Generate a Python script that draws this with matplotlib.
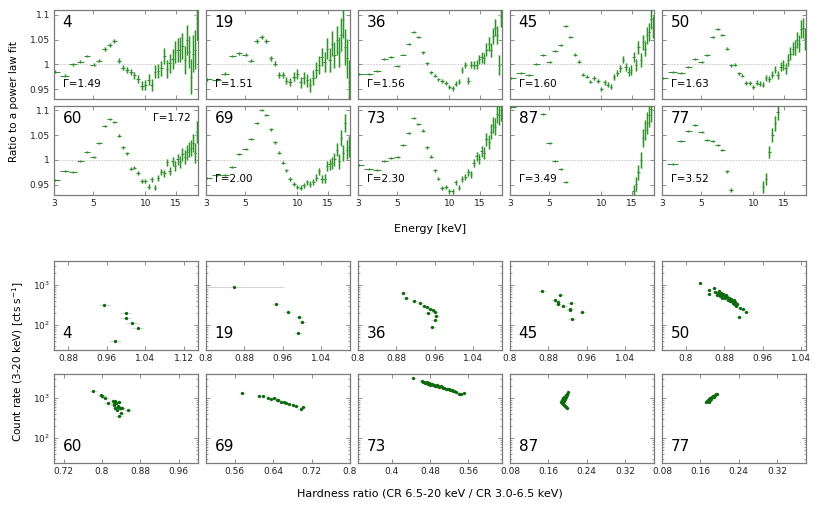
import matplotlib
matplotlib.use("Agg")
import matplotlib.pyplot as plt
from matplotlib.ticker import NullLocator, NullFormatter, LogLocator

W, H = 817, 515

# ---- top grid: ratio of spectrum to a power-law fit -------------------------
energy = [3.05, 3.45, 3.85, 4.25, 4.65, 5.05, 5.45, 5.85, 6.25, 6.65,
          7.05, 7.45, 7.85, 8.25, 8.65, 9.1, 9.55, 10.0, 10.45, 10.9,
          11.35, 11.8, 12.3, 12.8, 13.3, 13.8, 14.3, 14.8, 15.3, 15.8,
          16.3, 16.8, 17.3, 17.8, 18.3, 18.8, 19.3, 19.8]
energy_hw = [0.2, 0.2, 0.2, 0.2, 0.2, 0.2, 0.2, 0.2, 0.2, 0.2,
             0.2, 0.2, 0.2, 0.2, 0.2, 0.22, 0.22, 0.22, 0.22, 0.22,
             0.22, 0.22, 0.25, 0.25, 0.25, 0.25, 0.25, 0.25, 0.25, 0.25,
             0.25, 0.25, 0.25, 0.25, 0.25, 0.25, 0.25, 0.25]

err_faint = [0.003, 0.003, 0.003, 0.003, 0.003, 0.003, 0.003, 0.004, 0.004, 0.004,
             0.005, 0.005, 0.006, 0.006, 0.007, 0.008, 0.009, 0.010, 0.011, 0.012,
             0.013, 0.014, 0.015, 0.016, 0.018, 0.019, 0.020, 0.022, 0.024, 0.025,
             0.027, 0.029, 0.031, 0.033, 0.035, 0.037, 0.040, 0.045]
err_bright = [0.002, 0.002, 0.002, 0.002, 0.002, 0.002, 0.002, 0.002, 0.002, 0.002,
              0.003, 0.003, 0.003, 0.003, 0.003, 0.004, 0.004, 0.004, 0.005, 0.005,
              0.005, 0.006, 0.006, 0.007, 0.007, 0.008, 0.009, 0.010, 0.011, 0.012,
              0.013, 0.014, 0.015, 0.016, 0.017, 0.018, 0.020, 0.022]

ratio_4 = [0.985, 0.977, 1.000, 1.005, 1.017, 0.999, 1.007, 1.031, 1.039, 1.047,
           1.007, 0.993, 0.989, 0.985, 0.978, 0.970, 0.957, 0.959, 0.969, 0.959,
           0.985, 0.987, 0.992, 1.017, 0.990, 1.002, 1.011, 1.025, 1.029, 1.030,
           1.037, 1.009, 1.049, 1.025, 0.975, 1.022, 1.030, 1.094]
ratio_19 = [0.970, 0.969, 0.981, 1.017, 1.023, 1.020, 1.007, 1.047, 1.056, 1.048,
            1.012, 1.001, 0.979, 0.979, 0.967, 0.965, 0.975, 0.981, 0.964, 0.973,
            0.968, 0.959, 0.973, 0.989, 0.999, 1.015, 1.005, 1.032, 1.009, 1.042,
            1.019, 1.049, 1.025, 1.060, 1.089, 1.035, 1.012, 0.964]
ratio_36 = [0.981, 0.981, 0.987, 1.011, 1.014, 0.997, 1.020, 1.041, 1.065, 1.055,
            1.025, 1.002, 0.984, 0.977, 0.970, 0.967, 0.962, 0.954, 0.952, 0.961,
            0.965, 0.989, 0.999, 0.967, 0.999, 0.999, 0.999, 1.010, 1.014, 1.012,
            1.030, 1.042, 1.029, 1.057, 1.074, 1.060, 0.999, 1.097]
ratio_45 = [0.973, 0.983, 0.979, 1.000, 1.019, 1.005, 1.027, 1.040, 1.077, 1.055,
            1.020, 1.005, 0.979, 0.975, 0.965, 0.972, 0.967, 0.951, 0.964, 0.959,
            0.955, 0.975, 0.982, 0.992, 1.009, 0.995, 0.985, 0.989, 1.015, 0.999,
            1.035, 1.009, 1.045, 1.032, 1.059, 1.065, 1.092, 1.075]
ratio_50 = [0.973, 0.985, 0.983, 0.995, 1.011, 1.005, 1.019, 1.055, 1.071, 1.060,
            1.032, 0.998, 0.999, 0.982, 0.977, 0.962, 0.962, 0.955, 0.963, 0.961,
            0.959, 0.973, 0.971, 0.979, 0.989, 0.979, 0.995, 0.999, 0.992, 1.009,
            1.022, 1.032, 1.035, 1.049, 1.042, 1.072, 1.073, 1.052]
ratio_60 = [0.959, 0.977, 0.976, 0.997, 1.015, 1.006, 1.034, 1.069, 1.082, 1.077,
            1.049, 1.026, 1.013, 0.982, 0.984, 0.973, 0.957, 0.957, 0.946, 0.961,
            0.944, 0.964, 0.975, 0.973, 0.995, 0.977, 0.997, 0.987, 1.001, 0.995,
            1.011, 1.006, 1.015, 1.021, 1.024, 1.034, 1.014, 1.057]
ratio_69 = [0.963, 0.969, 0.969, 0.985, 1.012, 1.022, 1.043, 1.074, 1.101, 1.091,
            1.062, 1.036, 1.014, 0.994, 0.979, 0.961, 0.951, 0.946, 0.944, 0.949,
            0.955, 0.951, 0.955, 0.964, 0.977, 0.961, 0.962, 0.987, 0.991, 0.994,
            1.001, 1.021, 0.997, 1.044, 1.014, 1.074, 1.021, 1.027]
ratio_73 = [0.989, 0.982, 0.979, 0.997, 1.003, 1.005, 1.031, 1.054, 1.085, 1.073,
            1.059, 1.026, 1.006, 0.979, 0.962, 0.944, 0.946, 0.937, 0.937, 0.955,
            0.944, 0.961, 0.966, 0.975, 0.971, 0.993, 1.007, 1.001, 1.017, 1.014,
            1.042, 1.037, 1.057, 1.071, 1.067, 1.093, 1.091, 1.101]

energy_87 = [3.05, 4.65, 5.05, 5.45, 5.85, 6.25, 15.3, 15.8, 16.3, 16.8,
             17.3, 17.8, 18.3, 18.8, 19.3]
hw_87 = [0.2, 0.2, 0.2, 0.2, 0.2, 0.2, 0.25, 0.25, 0.25, 0.25,
         0.25, 0.25, 0.25, 0.25, 0.25]
ratio_87 = [1.106, 1.092, 1.035, 0.998, 0.982, 0.955, 0.938, 0.952, 0.975, 1.000,
            1.045, 1.060, 1.075, 1.090, 1.102]
err_87 = [0.002, 0.002, 0.002, 0.002, 0.002, 0.002, 0.012, 0.014, 0.015, 0.016,
          0.018, 0.020, 0.022, 0.024, 0.026]

energy_77 = [3.45, 3.85, 4.25, 4.65, 5.05, 5.45, 5.85, 6.25, 6.65, 7.05,
             7.45, 11.35, 11.8, 12.3, 12.8, 13.3, 13.8]
hw_77 = [0.25, 0.2, 0.2, 0.2, 0.2, 0.2, 0.2, 0.2, 0.2, 0.2,
         0.2, 0.22, 0.22, 0.25, 0.25, 0.25, 0.25]
ratio_77 = [0.992, 1.038, 1.058, 1.071, 1.057, 1.041, 1.038, 1.030, 1.020, 0.977,
            0.939, 0.946, 0.961, 1.016, 1.050, 1.074, 1.096]
err_77 = [0.002, 0.002, 0.002, 0.002, 0.002, 0.002, 0.002, 0.002, 0.003, 0.003,
          0.004, 0.012, 0.012, 0.013, 0.014, 0.015, 0.016]

obs_top = ["4", "19", "36", "45", "50", "60", "69", "73", "87", "77"]
gamma = ["1.49", "1.51", "1.56", "1.60", "1.63", "1.72", "2.00", "2.30", "3.49", "3.52"]

# ---- bottom grid: count rate vs hardness ratio -----------------------------
hr_4 = [0.955, 0.977, 0.999, 0.999, 1.012, 1.024]
cr_4 = [316, 41, 207, 150, 115, 83]
hr_19 = [0.858, 0.945, 0.970, 0.994, 1.001, 0.992]
cr_19 = [875, 347, 215, 156, 117, 62]
hre_19 = [0.104, 0.008, 0.008, 0.008, 0.008, 0.008]
hr_36 = [0.894, 0.899, 0.917, 0.929, 0.938, 0.943, 0.945, 0.950, 0.956, 0.960,
         0.963, 0.960, 0.955]
cr_36 = [620, 464, 407, 361, 305, 288, 207, 251, 237, 215, 168, 138, 91]
hr_45 = [0.866, 0.894, 0.899, 0.905, 0.901, 0.910, 0.924, 0.927, 0.926, 0.929, 0.951]
cr_45 = [708, 437, 376, 554, 330, 299, 237, 361, 257, 141, 208]
hr_50 = [0.830, 0.847, 0.848, 0.858, 0.860, 0.864, 0.866, 0.868, 0.870, 0.871,
         0.873, 0.875, 0.876, 0.878, 0.880, 0.882, 0.884, 0.886, 0.887, 0.889,
         0.891, 0.893, 0.895, 0.897, 0.899, 0.901, 0.903, 0.905, 0.907, 0.910,
         0.912, 0.918, 0.925]
cr_50 = [1100, 760, 600, 870, 680, 560, 640, 720, 590, 520,
         650, 560, 470, 600, 530, 480, 560, 500, 430, 470,
         400, 440, 390, 360, 420, 330, 370, 300, 330, 156,
         270, 250, 208]
hr_60 = [0.782, 0.798, 0.800, 0.806, 0.813, 0.822, 0.824, 0.827, 0.828, 0.830,
         0.832, 0.834, 0.836, 0.837, 0.839, 0.836, 0.841, 0.854, 0.826, 0.833]
cr_60 = [1510, 1210, 1100, 1000, 753, 828, 686, 860, 568, 753,
         497, 647, 780, 568, 428, 354, 568, 497, 720, 610]
hr_69 = [0.575, 0.610, 0.619, 0.629, 0.636, 0.641, 0.647, 0.650, 0.656, 0.662,
         0.666, 0.673, 0.682, 0.688, 0.697, 0.702]
cr_69 = [1330, 1160, 1100, 1000, 945, 1010, 920, 880, 800, 820,
         753, 713, 673, 650, 536, 600]
hr_73 = [0.445, 0.463, 0.465, 0.467, 0.469, 0.471, 0.473, 0.474, 0.476, 0.478,
         0.480, 0.481, 0.483, 0.485, 0.487, 0.489, 0.491, 0.493, 0.495, 0.497,
         0.499, 0.502, 0.504, 0.507, 0.510, 0.513, 0.516, 0.519, 0.522, 0.525,
         0.528, 0.531, 0.535, 0.540, 0.545, 0.550]
cr_73 = [3100, 2650, 2500, 2580, 2450, 2400, 2500, 2350, 2300, 2400,
         2250, 2150, 2300, 2200, 2100, 2150, 2050, 2000, 2100, 1950,
         1900, 1950, 1850, 1800, 1780, 1720, 1700, 1650, 1600, 1580,
         1540, 1500, 1460, 1300, 1250, 1380]
hr_87 = [0.201, 0.198, 0.196, 0.193, 0.191, 0.189, 0.188, 0.187, 0.189, 0.191,
         0.193, 0.195, 0.197, 0.199, 0.190, 0.192, 0.194, 0.196, 0.199]
cr_87 = [1400, 1280, 1180, 1080, 980, 900, 850, 800, 760, 720,
         680, 640, 600, 570, 820, 870, 950, 1050, 1200]
hr_77 = [0.172, 0.174, 0.175, 0.176, 0.178, 0.179, 0.180, 0.182, 0.183, 0.185,
         0.186, 0.188, 0.189, 0.190, 0.192, 0.194, 0.177, 0.181]
cr_77 = [820, 870, 920, 850, 950, 900, 980, 1000, 950, 1050,
         1100, 1080, 1150, 1200, 1250, 1300, 800, 1030]

obs_bottom = ["4", "19", "36", "45", "50", "60", "69", "73", "87", "77"]
hr_limits = [(0.85, 1.15), (0.8, 1.1), (0.8, 1.1), (0.8, 1.1), (0.75, 1.05),
             (0.70, 1.0), (0.5, 0.8), (0.33, 0.63), (0.08, 0.38), (0.08, 0.38)]
hr_ticks = [[0.88, 0.96, 1.04, 1.12], [0.8, 0.88, 0.96, 1.04], [0.8, 0.88, 0.96, 1.04],
            [0.8, 0.88, 0.96, 1.04], [0.8, 0.88, 0.96, 1.04], [0.72, 0.8, 0.88, 0.96],
            [0.56, 0.64, 0.72, 0.8], [0.4, 0.48, 0.56], [0.08, 0.16, 0.24, 0.32],
            [0.08, 0.16, 0.24, 0.32]]

# ---- style ------------------------------------------------------------------
SPINE = "#7a7a7a"
DARK = "#338f33"
LIGHT = "#b8dcb1"
DOT = "#0b6b0b"
plt.rcParams["font.family"] = ["DejaVu Sans"]

COL_LEFT = [54, 206, 358, 510, 662]
PANEL_W = 144
TOP_ROWS = [10, 105.5]
BOTTOM_ROWS = [261, 374]
PANEL_H = 89


def px_axes(fig, left, top, width, height):
    return fig.add_axes([left / W, 1 - (top + height) / H, width / W, height / H])


def style_axes(ax):
    for s in ax.spines.values():
        s.set_color(SPINE)
        s.set_linewidth(0.9)
    ax.tick_params(which="both", direction="in", top=True, right=True,
                   color=SPINE, labelsize=6.5, pad=3, labelcolor="#222222")
    ax.tick_params(which="major", length=3, width=0.6)
    ax.tick_params(which="minor", length=1.5, width=0.5)


fig = plt.figure(figsize=(W / 100, H / 100), dpi=100)

top_sets = [
    (energy, energy_hw, ratio_4, err_faint),
    (energy, energy_hw, ratio_19, err_faint),
    (energy, energy_hw, ratio_36, err_bright),
    (energy, energy_hw, ratio_45, err_bright),
    (energy, energy_hw, ratio_50, err_bright),
    (energy, energy_hw, ratio_60, err_bright),
    (energy, energy_hw, ratio_69, err_bright),
    (energy, energy_hw, ratio_73, err_bright),
    (energy_87, hw_87, ratio_87, err_87),
    (energy_77, hw_77, ratio_77, err_77),
]

for k, (e, hw, r, err) in enumerate(top_sets):
    row, col = divmod(k, 5)
    ax = px_axes(fig, COL_LEFT[col], TOP_ROWS[row], PANEL_W, PANEL_H)
    ax.set_xscale("log")
    ax.set_xlim(3, 20)
    ax.set_ylim(0.93, 1.11)
    ax.axhline(1.0, color="#c4c4c4", lw=0.6, ls=(0, (2, 1.5)), zorder=1)
    ax.errorbar(e, r, yerr=err, fmt="none", ecolor=LIGHT, elinewidth=1.9,
                capsize=0, zorder=2)
    ax.errorbar(e, r, xerr=hw, yerr=err, fmt="none", ecolor=DARK,
                elinewidth=0.75, capsize=0, zorder=3)
    ax.set_xticks([3, 5, 10, 15])
    ax.xaxis.set_minor_locator(NullLocator())
    ax.xaxis.set_minor_formatter(NullFormatter())
    ax.set_yticks([0.95, 1.0, 1.05, 1.1])
    style_axes(ax)
    if row == 1:
        ax.set_xticklabels(["3", "5", "10", "15"])
    else:
        ax.set_xticklabels([])
    if col == 0:
        ax.set_yticklabels(["0.95", "1", "1.05", "1.1"])
    else:
        ax.set_yticklabels([])
    ax.text(0.06, 0.94, obs_top[k], transform=ax.transAxes, fontsize=11,
            ha="left", va="top")
    if obs_top[k] == "60":
        ax.text(0.95, 0.86, f"Γ={gamma[k]}", transform=ax.transAxes,
                fontsize=7.5, ha="right", va="center")
    else:
        ax.text(0.06, 0.17, f"Γ={gamma[k]}", transform=ax.transAxes,
                fontsize=7.5, ha="left", va="center")

bottom_sets = [
    (hr_4, cr_4, 0.012), (hr_19, cr_19, hre_19), (hr_36, cr_36, 0.007),
    (hr_45, cr_45, 0.008), (hr_50, cr_50, 0.006), (hr_60, cr_60, 0.008),
    (hr_69, cr_69, 0.006), (hr_73, cr_73, 0.005), (hr_87, cr_87, 0.004),
    (hr_77, cr_77, 0.004),
]

for k, (hr, cr, hre) in enumerate(bottom_sets):
    row, col = divmod(k, 5)
    ax = px_axes(fig, COL_LEFT[col], BOTTOM_ROWS[row], PANEL_W, PANEL_H)
    ax.set_yscale("log")
    ax.set_ylim(24, 4000)
    ax.set_xlim(*hr_limits[k])
    ax.errorbar(hr, cr, xerr=hre, fmt="none", ecolor="#d4d4d4",
                elinewidth=0.7, capsize=0, zorder=2)
    ax.plot(hr, cr, "o", ms=2.4, color=DOT, mec="none", zorder=3)
    ax.set_xticks(hr_ticks[k])
    ax.set_xticklabels([f"{t:g}" for t in hr_ticks[k]])
    ax.set_yticks([100, 1000])
    ax.yaxis.set_minor_locator(LogLocator(base=10, subs=range(2, 10)))
    ax.yaxis.set_minor_formatter(NullFormatter())
    style_axes(ax)
    if col == 0:
        ax.set_yticklabels([r"$10^2$", r"$10^3$"])
    else:
        ax.set_yticklabels([])
    ax.text(0.06, 0.1, obs_bottom[k], transform=ax.transAxes, fontsize=11,
            ha="left", va="bottom")

fig.text(14 / W, 1 - 102 / H, "Ratio to a power law fit", rotation=90,
         ha="center", va="center", fontsize=7.5)
fig.text(430 / W, 1 - 229 / H, "Energy [keV]", ha="center", va="center",
         fontsize=8)
fig.text(18 / W, 1 - 362 / H, r"Count rate (3-20 keV) [cts s$^{-1}$]",
         rotation=90, ha="center", va="center", fontsize=7.5)
fig.text(430 / W, 1 - 494 / H, "Hardness ratio (CR 6.5-20 keV / CR 3.0-6.5 keV)",
         ha="center", va="center", fontsize=8)

fig.savefig("out.png", dpi=100)
